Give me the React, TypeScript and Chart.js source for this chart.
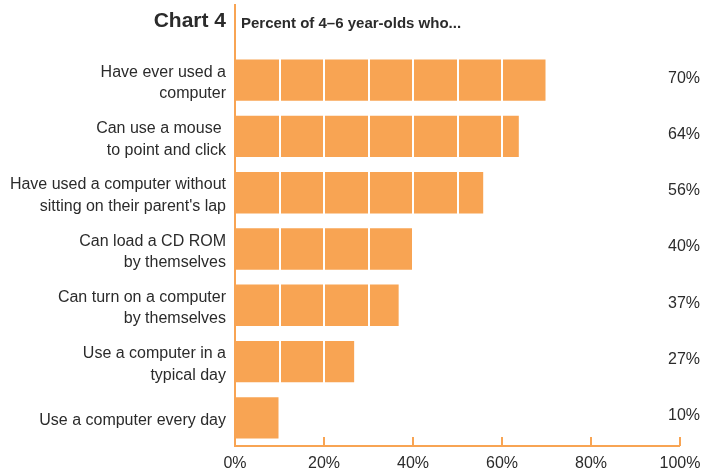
import React, { useEffect, useRef } from "react";
import { Chart, registerables } from "chart.js";

Chart.register(...registerables);

const categories: string[][] = [
  ["Have ever used a", "computer"],
  ["Can use a mouse ", "to point and click"],
  ["Have used a computer without", "sitting on their parent's lap"],
  ["Can load a CD ROM", "by themselves"],
  ["Can turn on a computer", "by themselves"],
  ["Use a computer in a", "typical day"],
  ["Use a computer every day"],
];
const values: number[] = [70, 64, 56, 40, 37, 27, 10];
const xTickValues: number[] = [0, 20, 40, 60, 80, 100];
const gridValues: number[] = [10, 20, 30, 40, 50, 60, 70, 80, 90];
const chartLabel = "Chart 4";
const subtitle = "Percent of 4–6 year-olds who...";

const ORANGE = "#F8A453";
const TEXT = "#2b2b2b";
const FONT = '"Liberation Sans", Arial, Helvetica, sans-serif';

const decor = {
  id: "decor",
  afterDatasetsDraw(chart: any) {
    const { ctx, chartArea, scales } = chart;
    const { left, right, top, bottom } = chartArea;
    const x = scales.x;
    ctx.save();
    // white lines over bars
    ctx.strokeStyle = "#ffffff";
    ctx.lineWidth = 2;
    gridValues.forEach((v) => {
      const px = Math.round(x.getPixelForValue(v));
      ctx.beginPath();
      ctx.moveTo(px, top);
      ctx.lineTo(px, bottom);
      ctx.stroke();
    });
    // axes
    ctx.strokeStyle = ORANGE;
    ctx.lineWidth = 2;
    ctx.beginPath();
    ctx.moveTo(left, 4);
    ctx.lineTo(left, bottom);
    ctx.lineTo(right, bottom);
    ctx.stroke();
    // tick marks upward
    xTickValues.forEach((v) => {
      if (v === 0) return;
      const px = Math.round(x.getPixelForValue(v));
      ctx.beginPath();
      ctx.moveTo(px, bottom);
      ctx.lineTo(px, bottom - 9);
      ctx.stroke();
    });
    // value labels
    ctx.fillStyle = TEXT;
    ctx.font = `16px ${FONT}`;
    ctx.textAlign = "center";
    ctx.textBaseline = "middle";
    const meta = chart.getDatasetMeta(0);
    meta.data.forEach((bar: any, i: number) => {
      ctx.fillText(values[i] + "%", 684, bar.y - 2);
    });
    // titles
    ctx.textBaseline = "alphabetic";
    ctx.font = `bold 21px ${FONT}`;
    ctx.textAlign = "right";
    ctx.fillText(chartLabel, 226, 27);
    ctx.font = `bold 15px ${FONT}`;
    ctx.textAlign = "left";
    ctx.fillText(subtitle, 241, 28);
    ctx.restore();
  },
};

export default function App() {
  const ref = useRef<HTMLCanvasElement | null>(null);
  useEffect(() => {
    document.body.style.margin = "0";
    const canvas = ref.current;
    if (!canvas) return;
    const chart = new Chart(canvas, {
      type: "bar",
      data: {
        labels: categories,
        datasets: [
          {
            data: values,
            backgroundColor: ORANGE,
            borderColor: "rgba(255,255,255,0.45)",
            borderWidth: 1,
            barPercentage: 0.77,
            categoryPercentage: 1,
          },
        ],
      },
      options: {
        indexAxis: "y",
        animation: false,
        responsive: false,
        maintainAspectRatio: false,
        layout: { padding: { top: 52, right: 22, left: 0, bottom: 0 } },
        plugins: {
          legend: { display: false },
          tooltip: { enabled: false },
          title: { display: false },
        },
        scales: {
          x: {
            min: 0,
            max: 100,
            grid: { display: false, drawTicks: false },
            border: { display: false },
            ticks: {
              stepSize: 20,
              padding: 8,
              color: TEXT,
              font: { family: FONT, size: 16 },
              callback: (v: any) => v + "%",
              maxRotation: 0,
            },
            afterFit: (s: any) => {
              s.height = 24;
              s.paddingLeft = 0;
              s.paddingRight = 0;
            },
          },
          y: {
            grid: { display: false, drawTicks: false },
            border: { display: false },
            ticks: {
              padding: 9,
              labelOffset: 3,
              color: TEXT,
              font: { family: FONT, size: 16, lineHeight: 1.35 },
            },
            afterFit: (s: any) => {
              s.width = 235;
              s.paddingTop = 0;
              s.paddingBottom = 0;
            },
          },
        },
      },
      plugins: [decor],
    });
    return () => chart.destroy();
  }, []);
  return (
    <div style={{ width: 702, height: 470 }}>
      <canvas ref={ref} width={702} height={470} style={{ display: "block" }} />
    </div>
  );
}
